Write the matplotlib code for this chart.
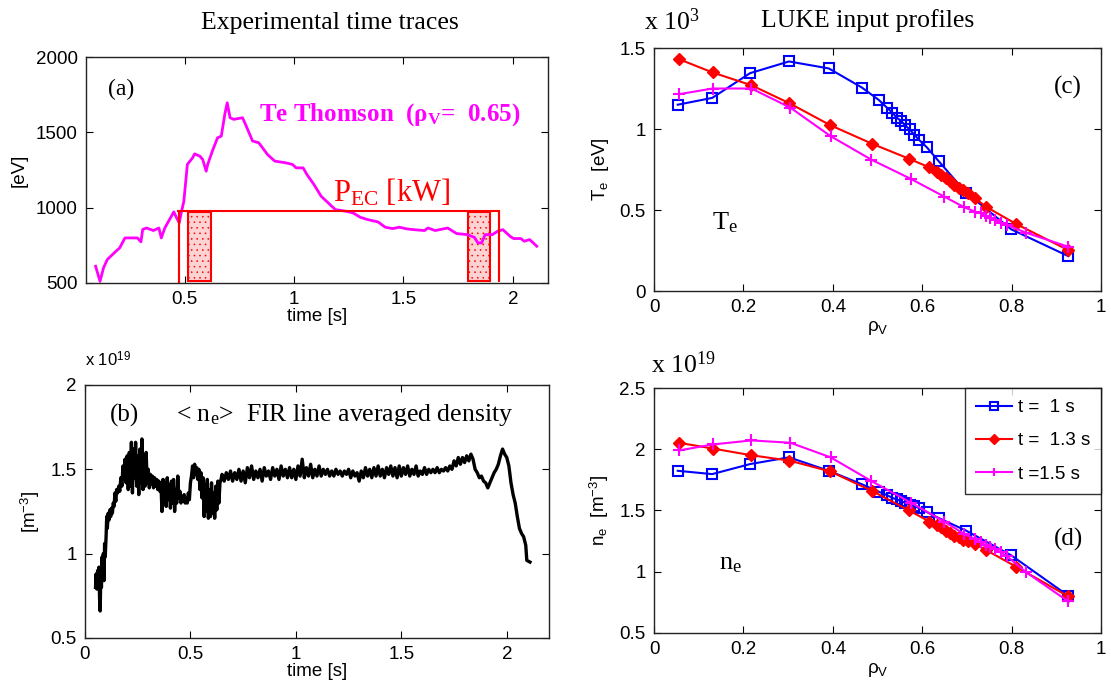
import matplotlib
matplotlib.use('Agg')
import matplotlib.pyplot as plt
from matplotlib.patches import Rectangle

plt.rcParams['font.family'] = ['Liberation Sans', 'DejaVu Sans']
plt.rcParams['mathtext.fontset'] = 'custom'
plt.rcParams['mathtext.rm'] = 'Liberation Serif'
plt.rcParams['mathtext.it'] = 'Liberation Serif:italic'
plt.rcParams['mathtext.bf'] = 'Liberation Serif:bold'
plt.rcParams['mathtext.sf'] = 'Liberation Sans'
plt.rcParams['hatch.linewidth'] = 0.4

SERIF = ['Liberation Serif', 'DejaVu Serif']

# (a) Thomson Te time trace [eV]
te_t = [0.094, 0.114, 0.130, 0.147, 0.179, 0.204, 0.228, 0.285, 0.301, 0.309, 0.326, 0.358,
        0.383, 0.394, 0.410, 0.440, 0.451, 0.464, 0.476, 0.485, 0.497, 0.513, 0.537, 0.546,
        0.570, 0.583, 0.599, 0.606, 0.627, 0.651, 0.668, 0.684, 0.695, 0.708, 0.725, 0.765,
        0.782, 0.811, 0.839, 0.879, 0.912, 0.961, 0.993, 1.010, 1.042, 1.059, 1.091, 1.124,
        1.156, 1.189, 1.238, 1.270, 1.303, 1.336, 1.384, 1.417, 1.450, 1.482, 1.515, 1.547,
        1.596, 1.612, 1.645, 1.702, 1.743, 1.792, 1.824, 1.840, 1.857, 1.873, 1.906, 1.930,
        1.954, 1.987, 2.003, 2.036, 2.052, 2.076, 2.093, 2.109]
te_v = [611, 511, 600, 655, 700, 733, 799, 799, 773, 855, 865, 848,
        865, 799, 865, 943, 972, 932, 899, 965, 1043, 1287, 1331, 1357,
        1342, 1320, 1242, 1287, 1375, 1464, 1475, 1619, 1696, 1597, 1586, 1597,
        1541, 1442, 1431, 1353, 1309, 1298, 1287, 1264, 1264, 1220, 1154, 1076,
        1032, 987, 976, 965, 936, 921, 905, 870, 861, 870, 859, 854,
        848, 865, 848, 865, 828, 821, 803, 766, 766, 821, 821, 843,
        854, 810, 795, 795, 777, 788, 766, 744]

# (a) ECRH power pulse and analysis windows
pec_t = [0.472, 0.477, 0.477, 0.477, 1.935, 1.935, 1.935, 1.938]
pec_v = [981, 981, 500, 981, 981, 510, 981, 981]
win_start = [0.518, 1.795]
win_end = [0.619, 1.897]
win_low = 516
win_high = 972

# (b) FIR line averaged density [1e19 m^-3]
ne_t = [0.050, 0.053, 0.056, 0.060, 0.063, 0.066, 0.069, 0.072, 0.075, 0.078, 0.081, 0.084,
        0.087, 0.090, 0.093, 0.096, 0.100, 0.103, 0.106, 0.110, 0.114, 0.118, 0.122, 0.126,
        0.130, 0.134, 0.138, 0.142, 0.146, 0.150, 0.155, 0.160, 0.165, 0.170, 0.175, 0.180,
        0.185, 0.190, 0.195, 0.200, 0.205, 0.210, 0.215, 0.220, 0.225, 0.230, 0.235, 0.240,
        0.245, 0.250, 0.255, 0.260, 0.265, 0.270, 0.275, 0.280, 0.285, 0.290, 0.295, 0.300,
        0.305, 0.310, 0.315, 0.320, 0.325, 0.330, 0.335, 0.340, 0.345, 0.350, 0.355, 0.360,
        0.365, 0.370, 0.375, 0.380, 0.385, 0.390, 0.395, 0.400, 0.405, 0.410, 0.415, 0.420,
        0.425, 0.430, 0.435, 0.440, 0.445, 0.450, 0.455, 0.460, 0.465, 0.470, 0.475, 0.480,
        0.485, 0.490, 0.495, 0.500, 0.505, 0.510, 0.515, 0.520, 0.525, 0.530, 0.535, 0.540,
        0.545, 0.550, 0.555, 0.560, 0.565, 0.570, 0.575, 0.580, 0.585, 0.590, 0.595, 0.600,
        0.605, 0.610, 0.615, 0.620, 0.625, 0.630, 0.635, 0.640, 0.645,
        0.650, 0.660, 0.670, 0.680, 0.690, 0.700, 0.710, 0.720, 0.730, 0.740, 0.750, 0.760,
        0.770, 0.780, 0.790, 0.800, 0.810, 0.820, 0.830, 0.840, 0.850, 0.860, 0.870, 0.880,
        0.890, 0.900, 0.910, 0.920, 0.930, 0.940, 0.950, 0.960, 0.970, 0.980, 0.990, 1.000,
        1.010, 1.020, 1.030, 1.040, 1.050, 1.060, 1.070, 1.080, 1.090, 1.100, 1.110, 1.120,
        1.130, 1.140, 1.150, 1.160, 1.170, 1.180, 1.190, 1.200, 1.210, 1.220, 1.230, 1.240,
        1.250, 1.260, 1.270, 1.280, 1.290, 1.300, 1.310, 1.320, 1.330, 1.340, 1.350, 1.360,
        1.370, 1.380, 1.390, 1.400, 1.410, 1.420, 1.430, 1.440, 1.450, 1.460, 1.470, 1.480,
        1.490, 1.500, 1.510, 1.520, 1.530, 1.540, 1.550, 1.560, 1.570, 1.580, 1.590, 1.600,
        1.610, 1.620, 1.630, 1.640, 1.650, 1.660, 1.670, 1.680, 1.690, 1.700, 1.710, 1.720,
        1.730, 1.740, 1.750, 1.760, 1.770, 1.780, 1.790, 1.800, 1.810, 1.820, 1.830, 1.840,
        1.850, 1.860, 1.870, 1.880, 1.890, 1.900, 1.910, 1.920, 1.930, 1.940, 1.950, 1.960,
        1.970, 1.980, 1.990, 2.000, 2.010, 2.020, 2.030, 2.040, 2.050, 2.060, 2.070, 2.080,
        2.090, 2.095, 2.110]
ne_v = [0.80, 0.88, 0.79, 0.90, 0.82, 0.92, 0.74, 0.66, 0.88, 0.80, 0.98, 0.90,
        1.00, 0.84, 1.06, 0.98, 1.10, 1.22, 1.15, 1.24, 1.20, 1.26, 1.22, 1.27,
        1.24, 1.30, 1.28, 1.36, 1.31, 1.38, 1.36, 1.40, 1.37, 1.45, 1.40, 1.52,
        1.44, 1.56, 1.42, 1.58, 1.38, 1.60, 1.40, 1.66, 1.36, 1.62, 1.45, 1.66,
        1.40, 1.58, 1.35, 1.62, 1.42, 1.68, 1.38, 1.55, 1.40, 1.60, 1.42, 1.50,
        1.39, 1.47, 1.41, 1.46, 1.39, 1.45, 1.40, 1.44, 1.38, 1.43, 1.37, 1.42,
        1.25, 1.44, 1.33, 1.42, 1.28, 1.45, 1.32, 1.41, 1.27, 1.43, 1.30, 1.44,
        1.25, 1.38, 1.30, 1.46, 1.33, 1.37, 1.30, 1.34, 1.31, 1.35, 1.30, 1.33,
        1.30, 1.36, 1.32, 1.42, 1.46, 1.52, 1.45, 1.53, 1.47, 1.51, 1.44, 1.50,
        1.38, 1.48, 1.33, 1.45, 1.22, 1.41, 1.25, 1.44, 1.21, 1.38, 1.22, 1.42,
        1.24, 1.36, 1.21, 1.40, 1.26, 1.43, 1.30, 1.42, 1.44,
        1.47, 1.43, 1.48, 1.44, 1.49, 1.43, 1.48, 1.44, 1.50, 1.43, 1.49, 1.42,
        1.51, 1.45, 1.52, 1.44, 1.49, 1.45, 1.50, 1.43, 1.51, 1.46, 1.49, 1.44,
        1.51, 1.46, 1.50, 1.44, 1.52, 1.46, 1.50, 1.45, 1.51, 1.45, 1.50, 1.44,
        1.52, 1.46, 1.56, 1.45, 1.51, 1.46, 1.53, 1.45, 1.50, 1.46, 1.52, 1.46,
        1.50, 1.47, 1.50, 1.46, 1.49, 1.46, 1.50, 1.47, 1.49, 1.46, 1.49, 1.47,
        1.50, 1.45, 1.49, 1.46, 1.48, 1.43, 1.49, 1.45, 1.51, 1.46, 1.50, 1.45,
        1.51, 1.46, 1.52, 1.46, 1.50, 1.45, 1.51, 1.47, 1.52, 1.46, 1.51, 1.45,
        1.52, 1.46, 1.51, 1.47, 1.52, 1.46, 1.50, 1.47, 1.52, 1.46, 1.49, 1.47,
        1.51, 1.47, 1.50, 1.48, 1.50, 1.48, 1.51, 1.48, 1.50, 1.49, 1.51, 1.49,
        1.52, 1.50, 1.55, 1.52, 1.57, 1.53, 1.57, 1.54, 1.58, 1.55, 1.59, 1.56,
        1.50, 1.48, 1.45, 1.46, 1.43, 1.42, 1.39, 1.42, 1.45, 1.48, 1.50, 1.53,
        1.58, 1.62, 1.59, 1.57, 1.52, 1.42, 1.35, 1.30, 1.22, 1.15, 1.12, 1.10,
        1.05, 0.96, 0.95]

# (c), (d) LUKE input profiles vs rho_V
rho_1 = [0.053, 0.130, 0.215, 0.302, 0.391, 0.465, 0.503, 0.521, 0.533, 0.543, 0.553, 0.562,
         0.572, 0.582, 0.592, 0.610, 0.637, 0.698, 0.799, 0.927]
te_1 = [1.150, 1.192, 1.345, 1.417, 1.374, 1.256, 1.179, 1.132, 1.101, 1.070, 1.049, 1.022,
        0.997, 0.966, 0.935, 0.888, 0.801, 0.608, 0.381, 0.215]
ne_1 = [1.824, 1.797, 1.879, 1.934, 1.824, 1.714, 1.653, 1.626, 1.603, 1.590, 1.576, 1.562,
        1.548, 1.535, 1.521, 1.488, 1.438, 1.336, 1.134, 0.803]

rho_13 = [0.055, 0.131, 0.218, 0.303, 0.394, 0.487, 0.570, 0.616, 0.633, 0.643, 0.653, 0.663,
          0.672, 0.683, 0.692, 0.702, 0.718, 0.742, 0.810, 0.927]
te_13 = [1.432, 1.349, 1.270, 1.159, 1.024, 0.910, 0.817, 0.763, 0.733, 0.718, 0.697, 0.677,
         0.656, 0.635, 0.621, 0.604, 0.573, 0.521, 0.414, 0.252]
ne_13 = [2.053, 2.006, 1.951, 1.907, 1.819, 1.661, 1.501, 1.410, 1.383, 1.363, 1.336, 1.317,
         1.294, 1.281, 1.261, 1.253, 1.226, 1.179, 1.041, 0.798]

rho_15 = [0.056, 0.131, 0.218, 0.305, 0.395, 0.486, 0.574, 0.649, 0.694, 0.718, 0.731, 0.742,
          0.752, 0.763, 0.776, 0.789, 0.832, 0.927]
te_15 = [1.215, 1.250, 1.250, 1.132, 0.956, 0.811, 0.693, 0.583, 0.517, 0.490, 0.480, 0.463,
         0.449, 0.439, 0.422, 0.408, 0.360, 0.273]
ne_15 = [1.990, 2.039, 2.072, 2.053, 1.934, 1.741, 1.565, 1.410, 1.308, 1.267, 1.239, 1.217,
         1.198, 1.184, 1.157, 1.129, 0.997, 0.757]

labels = ['t =  1 s', 't =  1.3 s', 't =1.5 s']

fig = plt.figure(figsize=(11.11, 6.86), dpi=100)


def style(ax):
    ax.tick_params(direction='in', top=True, right=True, length=5, labelsize=13.5, pad=6)
    for s in ax.spines.values():
        s.set_linewidth(1.0)
        s.set_color('#222222')


# ---- (a)
ax = fig.add_axes([0.0774, 0.5875, 0.4158, 0.3294])
ax.plot(te_t, te_v, color='#ff00ff', lw=2)
for a, b in zip(win_start, win_end):
    ax.add_patch(Rectangle((a, win_low), b - a, win_high - win_low, facecolor='#fbd3d3',
                           edgecolor='red', lw=1.5, hatch='...'))
ax.plot(pec_t, pec_v, color='red', lw=1.5)
ax.set_xlim(0.05, 2.16)
ax.set_ylim(500, 2000)
ax.set_xticks([0.5, 1, 1.5, 2])
ax.set_xticklabels(['0.5', '1', '1.5', '2'])
ax.set_yticks([500, 1000, 1500, 2000])
ax.set_xlabel('time [s]', fontsize=13.5, labelpad=0)
ax.set_ylabel('[eV]', fontsize=13.5, labelpad=6)
style(ax)
ax.text(0.15, 1785, '(a)', family=SERIF, fontsize=17, va='center')
ax.text(0.84, 1619, r'Te Thomson  ($\mathbf{\rho_V}$=  0.65)', family=SERIF, fontsize=18,
        fontweight='bold', color='#ff00ff', va='center')
ax.text(1.18, 1098, r'P$_{\mathrm{EC}}$ [kW]', family=SERIF, fontsize=22, color='red',
        va='center')

# ---- (b)
ax = fig.add_axes([0.0765, 0.0700, 0.4176, 0.3688])
ax.plot(ne_t, ne_v, color='black', lw=2.4)
ax.set_xlim(0, 2.2)
ax.set_ylim(0.5, 2)
ax.set_xticks([0, 0.5, 1, 1.5, 2])
ax.set_xticklabels(['0', '0.5', '1', '1.5', '2'])
ax.set_yticks([0.5, 1, 1.5, 2])
ax.set_yticklabels(['0.5', '1', '1.5', '2'])
ax.set_xlabel('time [s]', fontsize=13.5, labelpad=0)
ax.set_ylabel(r'[m$^{\mathsf{-3}}$]', fontsize=13.5, labelpad=6)
style(ax)
ax.text(0.0, 1.06, r'x 10$^{\mathsf{19}}$', transform=ax.transAxes, fontsize=12, va='bottom')
ax.text(0.12, 1.82, '(b)', family=SERIF, fontsize=18, va='center')
ax.text(0.43, 1.82, r'< n$_{\mathrm{e}}$>  FIR line averaged density', family=SERIF,
        fontsize=18.5, va='center')

fig.text(0.297, 0.966, 'Experimental time traces', family=SERIF, fontsize=18.5,
         ha='center', va='center')

# ---- (c)
ax = fig.add_axes([0.5887, 0.5758, 0.4023, 0.3542])
ax.plot(rho_1, te_1, color='blue', lw=1.5, marker='s', ms=7, mfc='none', mew=1.5)
ax.plot(rho_13, te_13, color='red', lw=1.5, marker='D', ms=6)
ax.plot(rho_15, te_15, color='#ff00ff', lw=1.5, marker='+', ms=8, mew=1.5)
ax.set_xlim(0, 1)
ax.set_ylim(0, 1.5)
ax.set_xticks([0, 0.2, 0.4, 0.6, 0.8, 1])
ax.set_xticklabels(['0', '0.2', '0.4', '0.6', '0.8', '1'])
ax.set_yticks([0, 0.5, 1, 1.5])
ax.set_yticklabels(['0', '0.5', '1', '1.5'])
ax.set_xlabel(r'$\mathsf{\rho_V}$', fontsize=13.5, labelpad=2)
ax.set_ylabel(r'$\mathsf{T_e}$  [eV]', fontsize=13.5, labelpad=6)
style(ax)
ax.text(0.13, 0.42, r'T$_{\mathrm{e}}$', family=SERIF, fontsize=19, va='center')
ax.text(0.895, 1.256, '(c)', family=SERIF, fontsize=18, va='center')

fig.text(0.580, 0.968, r'x 10$^{\mathrm{3}}$', family=SERIF, fontsize=18.5, va='center')
fig.text(0.781, 0.970, 'LUKE input profiles', family=SERIF, fontsize=18.5, ha='center',
         va='center')

# ---- (d)
ax = fig.add_axes([0.5887, 0.0773, 0.4023, 0.3571])
ax.plot(rho_1, ne_1, color='blue', lw=1.5, marker='s', ms=7, mfc='none', mew=1.5,
        label=labels[0])
ax.plot(rho_13, ne_13, color='red', lw=1.5, marker='D', ms=6, label=labels[1])
ax.plot(rho_15, ne_15, color='#ff00ff', lw=1.5, marker='+', ms=8, mew=1.5, label=labels[2])
ax.set_xlim(0, 1)
ax.set_ylim(0.5, 2.5)
ax.set_xticks([0, 0.2, 0.4, 0.6, 0.8, 1])
ax.set_xticklabels(['0', '0.2', '0.4', '0.6', '0.8', '1'])
ax.set_yticks([0.5, 1, 1.5, 2, 2.5])
ax.set_yticklabels(['0.5', '1', '1.5', '2', '2.5'])
ax.set_xlabel(r'$\mathsf{\rho_V}$', fontsize=13.5, labelpad=2)
ax.set_ylabel(r'$\mathsf{n_e}$  [m$^{\mathsf{-3}}$]', fontsize=13.5, labelpad=6)
style(ax)
leg = ax.legend(loc='upper right', fontsize=13.5, borderaxespad=0, fancybox=False,
                edgecolor='black', handlelength=1.9, handletextpad=0.3, labelspacing=0.85,
                borderpad=0.6, markerscale=0.8)
leg.get_frame().set_linewidth(1.0)
ax.text(0.145, 1.06, r'n$_{\mathrm{e}}$', family=SERIF, fontsize=19, va='center')
ax.text(0.895, 1.267, '(d)', family=SERIF, fontsize=18, va='center')

fig.text(0.586, 0.468, r'x 10$^{\mathrm{19}}$', family=SERIF, fontsize=18.5, va='center')

fig.savefig('out.png', dpi=100)
